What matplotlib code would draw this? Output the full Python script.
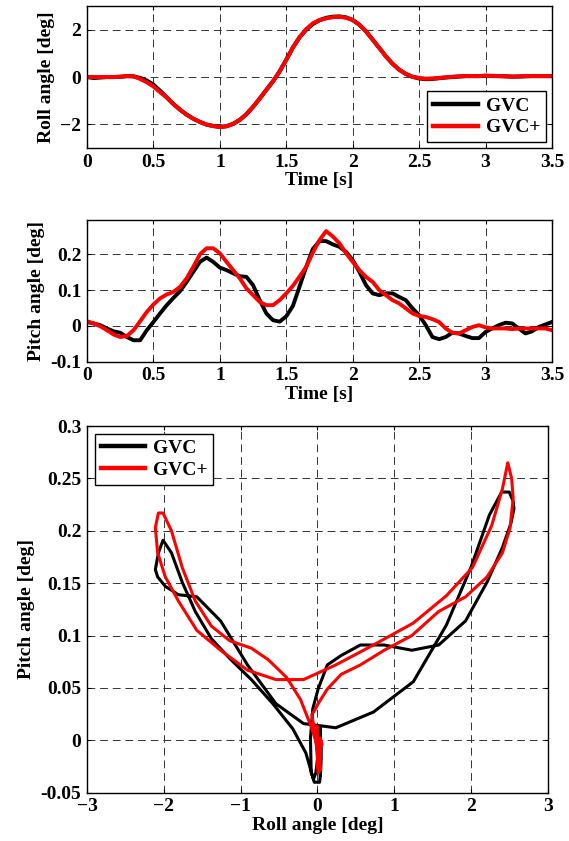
import numpy as np
import matplotlib
matplotlib.use('Agg')
import matplotlib.pyplot as plt

# time base of the recorded manoeuvre [s], one sample every 0.05 s
time = np.round(np.arange(0, 3.5001, 0.05), 2)

# roll angle [deg]
roll_gvc = [0.00, -0.04, -0.02, 0.00, 0.00, 0.01, 0.04, 0.03, -0.04, -0.15,
            -0.32, -0.58, -0.86, -1.14, -1.38, -1.59, -1.76, -1.90, -2.01, -2.07,
            -2.11, -2.08, -1.98, -1.81, -1.57, -1.26, -0.91, -0.54, -0.18, 0.24,
            0.73, 1.25, 1.68, 2.00, 2.24, 2.40, 2.50, 2.55, 2.56, 2.52,
            2.41, 2.21, 1.93, 1.58, 1.23, 0.87, 0.56, 0.31, 0.13, 0.01,
            -0.06, -0.09, -0.08, -0.05, -0.02, 0.00, 0.02, 0.04, 0.04, 0.04,
            0.05, 0.05, 0.04, 0.03, 0.02, 0.02, 0.03, 0.04, 0.04, 0.04,
            0.04]
roll_gvcp = [0.00, 0.00, 0.00, 0.00, 0.00, 0.01, 0.04, 0.03, -0.08, -0.22,
             -0.40, -0.64, -0.86, -1.14, -1.38, -1.59, -1.76, -1.90, -2.01, -2.07,
             -2.11, -2.08, -1.98, -1.81, -1.57, -1.26, -0.91, -0.54, -0.18, 0.24,
             0.73, 1.25, 1.68, 2.02, 2.27, 2.41, 2.48, 2.53, 2.55, 2.51,
             2.41, 2.21, 1.93, 1.58, 1.23, 0.87, 0.56, 0.31, 0.13, 0.01,
             -0.04, -0.07, -0.06, -0.04, -0.01, 0.01, 0.03, 0.04, 0.04, 0.04,
             0.06, 0.04, 0.04, 0.03, 0.01, 0.03, 0.04, 0.04, 0.04, 0.04,
             0.04]

# pitch angle [deg]
pitch_gvc = [0.011, 0.007, 0.002, -0.007, -0.015, -0.019, -0.031, -0.040, -0.040, -0.012,
             0.011, 0.035, 0.058, 0.078, 0.097, 0.123, 0.151, 0.179, 0.191, 0.179,
             0.163, 0.156, 0.147, 0.139, 0.137, 0.114, 0.072, 0.035, 0.016, 0.012,
             0.027, 0.056, 0.110, 0.165, 0.215, 0.237, 0.237, 0.228, 0.221, 0.207,
             0.184, 0.151, 0.114, 0.091, 0.086, 0.091, 0.091, 0.081, 0.072, 0.049,
             0.030, 0.002, -0.031, -0.037, -0.031, -0.019, -0.021, -0.028, -0.034, -0.034,
             -0.017, -0.007, 0.002, 0.009, 0.007, -0.007, -0.021, -0.015, -0.003, 0.004,
             0.011]
pitch_gvcp = [0.013, 0.007, -0.001, -0.012, -0.024, -0.031, -0.028, -0.012, 0.013, 0.039,
              0.060, 0.077, 0.088, 0.095, 0.109, 0.133, 0.165, 0.200, 0.217, 0.217,
              0.203, 0.179, 0.156, 0.133, 0.105, 0.086, 0.067, 0.058, 0.058, 0.072,
              0.091, 0.112, 0.138, 0.165, 0.205, 0.240, 0.265, 0.250, 0.231, 0.203,
              0.179, 0.156, 0.137, 0.123, 0.100, 0.086, 0.072, 0.063, 0.049, 0.035,
              0.028, 0.025, 0.019, 0.011, -0.007, -0.019, -0.021, -0.012, -0.003, 0.002,
              -0.004, -0.007, -0.007, -0.007, -0.009, -0.007, -0.007, -0.007, -0.007, -0.007,
              -0.012]

# tick values and labels
time_ticks = [0, 0.5, 1, 1.5, 2, 2.5, 3, 3.5]
time_labels = ['0', '0.5', '1', '1.5', '2', '2.5', '3', '3.5']
roll_ticks = [-2, 0, 2]
pitch_ticks = [-0.1, 0, 0.1, 0.2]
pitch_labels = ['-0.1', '0', '0.1', '0.2']
phase_xticks = [-3, -2, -1, 0, 1, 2, 3]
phase_yticks = [-0.05, 0, 0.05, 0.1, 0.15, 0.2, 0.25, 0.3]
phase_ylabels = ['-0.05', '0', '0.05', '0.1', '0.15', '0.2', '0.25', '0.3']

plt.rcParams['font.family'] = ['Liberation Serif', 'DejaVu Serif']
plt.rcParams['font.weight'] = 'bold'
plt.rcParams['axes.labelweight'] = 'bold'
plt.rcParams['font.size'] = 14
plt.rcParams['axes.linewidth'] = 1.0


def style_axes(ax):
    ax.grid(True, color='0.2', linestyle=(0, (8, 5)), linewidth=0.7)
    ax.tick_params(direction='in', length=3, top=True, right=True, pad=4)
    for lab in ax.get_xticklabels() + ax.get_yticklabels():
        lab.set_fontweight('bold')


fig = plt.figure(figsize=(5.69, 8.41), dpi=100)

# top: roll angle vs time
ax1 = fig.add_axes([0.1529, 0.824, 0.8172, 0.1688])
ax1.plot(time, roll_gvc, color='black', lw=2.9, label='GVC')
ax1.plot(time, roll_gvcp, color='red', lw=2.9, label='GVC+')
ax1.set_xlim(0, 3.5)
ax1.set_ylim(-3, 3)
ax1.set_xticks(time_ticks)
ax1.set_xticklabels(time_labels)
ax1.set_yticks(roll_ticks)
ax1.set_xlabel('Time [s]', labelpad=1)
ax1.set_ylabel('Roll angle [deg]')
style_axes(ax1)
leg1 = ax1.legend(loc='lower right', fancybox=False, framealpha=1, edgecolor='black',
                  handlelength=2.3, labelspacing=0.2, borderaxespad=0.3,
                  borderpad=0.3, handletextpad=0.4)
for h in leg1.get_lines():
    h.set_linewidth(3.2)

# middle: pitch angle vs time
ax2 = fig.add_axes([0.1529, 0.5699, 0.8172, 0.1685])
ax2.plot(time, pitch_gvc, color='black', lw=2.8)
ax2.plot(time, pitch_gvcp, color='red', lw=2.8)
ax2.set_xlim(0, 3.5)
ax2.set_ylim(-0.1, 0.296)
ax2.set_xticks(time_ticks)
ax2.set_xticklabels(time_labels)
ax2.set_yticks(pitch_ticks)
ax2.set_yticklabels(pitch_labels)
ax2.set_xlabel('Time [s]', labelpad=1)
ax2.set_ylabel('Pitch angle [deg]')
style_axes(ax2)

# bottom: pitch vs roll
ax3 = fig.add_axes([0.1529, 0.0574, 0.8097, 0.436])
ax3.plot(roll_gvc, pitch_gvc, color='black', lw=2.2, label='GVC')
ax3.plot(roll_gvcp, pitch_gvcp, color='red', lw=2.2, label='GVC+')
ax3.set_xlim(-3, 3)
ax3.set_ylim(-0.05, 0.3)
ax3.set_xticks(phase_xticks)
ax3.set_yticks(phase_yticks)
ax3.set_yticklabels(phase_ylabels)
ax3.set_xlabel('Roll angle [deg]', labelpad=1)
ax3.set_ylabel('Pitch angle [deg]')
style_axes(ax3)
leg3 = ax3.legend(loc='upper left', fancybox=False, framealpha=1, edgecolor='black',
                  handlelength=2.3, labelspacing=0.2, borderaxespad=0.4,
                  borderpad=0.3, handletextpad=0.4)
for h in leg3.get_lines():
    h.set_linewidth(3.2)

fig.savefig('out.png', dpi=100)
